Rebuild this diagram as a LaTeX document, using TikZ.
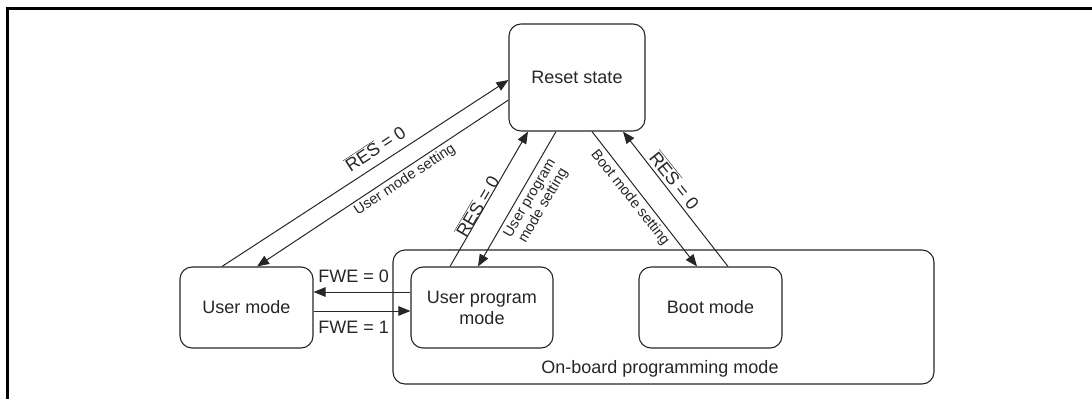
\documentclass[tikz,border=0pt]{standalone}
\usepackage{fontspec}
\setmainfont{Liberation Sans}
\usetikzlibrary{arrows.meta,calc}
\begin{document}
\begin{tikzpicture}[x=1pt,y=-1pt,
  state/.style={draw=black!85, line width=1.1pt, rounded corners=12pt, inner sep=0pt, align=center, font=\fontsize{18}{21}\selectfont, text=black!85},
  conn/.style={draw=black!85, line width=1pt, -{Triangle[length=12pt,width=9.5pt]}},
  biglbl/.style={font=\fontsize{18}{21}\selectfont, inner sep=0pt, text=black!85},
  smalllbl/.style={font=\fontsize{14.5}{15.5}\selectfont, inner sep=0pt, align=center, text=black!85}]
\useasboundingbox (0,0) rectangle (1092,399);
\draw[line width=2.6pt] (1092,8.7) -- (7.2,8.7) -- (7.2,399);

\node[state, minimum width=541pt, minimum height=134pt] (ob) at (663.5,317) {};
\node[biglbl, anchor=base] (obl) at (660,373) {On-board programming mode};

\node[state, minimum width=136pt, minimum height=107pt] (rs) at (577,77.5) {Reset state};
\node[state, minimum width=133pt, minimum height=81pt] (um) at (246.5,307.5) {User mode};
\node[state, minimum width=142pt, minimum height=81pt] (upm) at (482,307.5) {User program\\mode};
\node[state, minimum width=143pt, minimum height=81pt] (bm) at (710.5,307.5) {Boot mode};

\draw[conn] ($(um.north)+(-24.5,0)$) -- ($(rs.west)+(0,2.5)$);
\draw[conn] ($(rs.west)+(0,22.5)$) -- ($(um.north)+(10.5,0)$);
\draw[conn] ($(upm.north)+(-32,0)$) -- ($(rs.south)+(-49,0)$);
\draw[conn] ($(rs.south)+(-21,0)$) -- ($(upm.north)+(-4,0)$);
\draw[conn] ($(rs.south)+(15,0)$) -- ($(bm.north)+(-13.5,0)$);
\draw[conn] ($(bm.north)+(17.5,0)$) -- ($(rs.south)+(46,0)$);
\draw[conn] ($(upm.west)+(0,-15.5)$) -- ($(um.east)+(0,-15.5)$);
\draw[conn] ($(um.east)+(0,3.5)$) -- ($(upm.west)+(0,3.5)$);

\node[biglbl, rotate=33.2] (l1) at (375,148) {$\overline{\hbox{RES}}$ = 0};
\node[smalllbl, rotate=33.4] (l2) at (405,180) {User mode setting};
\node[biglbl, rotate=59.6] (l3) at (477,206) {$\overline{\hbox{RES}}$ = 0};
\node[smalllbl, rotate=59.5] (l4) at (537,202) {User program\\mode setting};
\node[smalllbl, rotate=-51.5] (l5) at (630,198) {Boot mode setting};
\node[biglbl, rotate=-51.5] (l6) at (675,180) {$\overline{\hbox{RES}}$ = 0};
\node[biglbl] (f0) at (353.7,276) {FWE = 0};
\node[biglbl] (f1) at (353.7,327.5) {FWE = 1};
\end{tikzpicture}
\end{document}
